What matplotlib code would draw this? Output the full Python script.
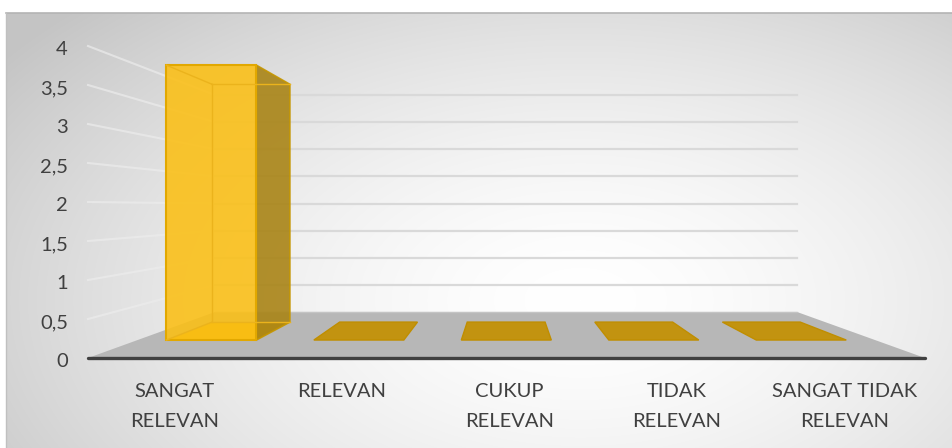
import numpy as np
import matplotlib
matplotlib.use("Agg")
import matplotlib.pyplot as plt
from matplotlib.patches import Polygon

# ---- data ----
categories = ["SANGAT\nRELEVAN", "RELEVAN", "CUKUP\nRELEVAN", "TIDAK\nRELEVAN", "SANGAT TIDAK\nRELEVAN"]
values = [4, 0, 0, 0, 0]
y_ticks = [0, 0.5, 1, 1.5, 2, 2.5, 3, 3.5, 4]
y_tick_labels = ["0", "0,5", "1", "1,5", "2", "2,5", "3", "3,5", "4"]

# ---- geometry of the pseudo-3D view (pixel space) ----
W, H = 953, 448
X0, X1 = 88, 925          # front plane x extent
Y0 = 358                  # front plane y of value 0
PX_PER_UNIT = 78.0
VP = (505.0, 207.0)       # vanishing point
S_BACK = 0.695            # scale at the back wall
BAR_FRAC = 0.61
Z_FRONT, Z_BACK = 0.39, 0.78

def scale(z):
    return 1 - (1 - S_BACK) * z

def proj(X, v, z):
    Y = Y0 - v * PX_PER_UNIT
    s = scale(z)
    return (VP[0] + (X - VP[0]) * s, VP[1] + (Y - VP[1]) * s)

fig = plt.figure(figsize=(W / 100, H / 100), dpi=100)
ax = fig.add_axes([0, 0, 1, 1])
ax.set_xlim(0, W)
ax.set_ylim(H, 0)
ax.axis("off")

# background radial gradient
yy, xx = np.mgrid[0:H, 0:W]
d = np.sqrt(((xx - 580) / 620.0) ** 2 + ((yy - 300) / 360.0) ** 2)
g = 1.0 - (1.0 - 0.77) * np.clip(d, 0, 1.15) ** 1.6 / 1.15 ** 1.6
img = np.dstack([g, g, g])
img[:13, :, :] = 1.0
img[:, :6, :] = 1.0
ax.imshow(img, extent=(0, W, H, 0), zorder=0, interpolation="bilinear")
ax.plot([6, W], [13.5, 13.5], color="#b4b4b4", lw=1.2, zorder=1)
ax.plot([6.5, 6.5], [13, H], color="#c0c0c0", lw=1.0, zorder=1)

# gridlines: side wall and back wall
for v in y_ticks[1:]:
    a = proj(X0, v, 0.0)
    b = proj(X0, v, 1.0)
    c = proj(X1, v, 1.0)
    ax.plot([a[0], b[0]], [a[1], b[1]], color="#ececec", lw=1.5, alpha=0.7, zorder=2)
    ax.plot([b[0], c[0]], [b[1], c[1]], color="#d9d9d9", lw=1.6, zorder=2)

# floor
floor = [proj(X0, 0, 0), proj(X1, 0, 0), proj(X1, 0, 1), proj(X0, 0, 1)]
ax.add_patch(Polygon(floor, closed=True, facecolor="#b7b7b7", edgecolor="none", zorder=3))
ax.plot([floor[3][0], floor[2][0]], [floor[3][1], floor[2][1]], color="#c4c4c4", lw=1, zorder=3)

n = len(categories)
cw = (X1 - X0) / n
for i, (cat, v) in enumerate(zip(categories, values)):
    xc = X0 + cw * (i + 0.5)
    xl, xr = xc - cw * BAR_FRAC / 2, xc + cw * BAR_FRAC / 2
    if v == 0:
        top = [proj(xl, 0, Z_FRONT), proj(xr, 0, Z_FRONT), proj(xr, 0, Z_BACK), proj(xl, 0, Z_BACK)]
        ax.add_patch(Polygon(top, closed=True, facecolor="#c29310", edgecolor="#c08e00", lw=1, zorder=4))
    else:
        fl_b, fr_b = proj(xl, 0, Z_FRONT), proj(xr, 0, Z_FRONT)
        fl_t, fr_t = proj(xl, v, Z_FRONT), proj(xr, v, Z_FRONT)
        bl_b, br_b = proj(xl, 0, Z_BACK), proj(xr, 0, Z_BACK)
        bl_t, br_t = proj(xl, v, Z_BACK), proj(xr, v, Z_BACK)
        # bottom face (slightly deeper tone)
        ax.add_patch(Polygon([fl_b, fr_b, br_b, bl_b], closed=True, facecolor="#e9b010",
                             edgecolor="none", zorder=5))
        # right face
        ax.add_patch(Polygon([fr_b, br_b, br_t, fr_t], closed=True, facecolor="#a98416",
                             edgecolor="#c49500", lw=1.2, alpha=0.9, zorder=6))
        # front face
        ax.add_patch(Polygon([fl_b, fr_b, fr_t, fl_t], closed=True, facecolor=(0.985, 0.75, 0.08, 0.88),
                             edgecolor="#e2a800", lw=1.5, zorder=7))
        # hidden edges seen through the translucent bar
        hidden = [(fl_t, bl_t), (fl_b, bl_b), (bl_b, br_b), (bl_t, br_t), (bl_b, bl_t)]
        for p, q in hidden:
            ax.plot([p[0], q[0]], [p[1], q[1]], color="#ebb31c", lw=1, zorder=7.5)

    # category label
    lines = cat.split("\n")
    for k, ln in enumerate(lines):
        ax.text(xc + 3, 397 + 30 * k, ln, ha="center", va="baseline", fontsize=14.5,
                family="Lato", color="#404040", zorder=9)

# front floor edge
ax.plot([X0, X1], [Y0, Y0], color="#404040", lw=2.4, solid_capstyle="round", zorder=8)

# y tick labels
for v, lab in zip(y_ticks, y_tick_labels):
    ax.text(68, Y0 - v * PX_PER_UNIT + 9, lab, ha="right", va="baseline", fontsize=14.5,
            family="Lato", color="#404040", zorder=9)

fig.savefig("out.png", dpi=100)
